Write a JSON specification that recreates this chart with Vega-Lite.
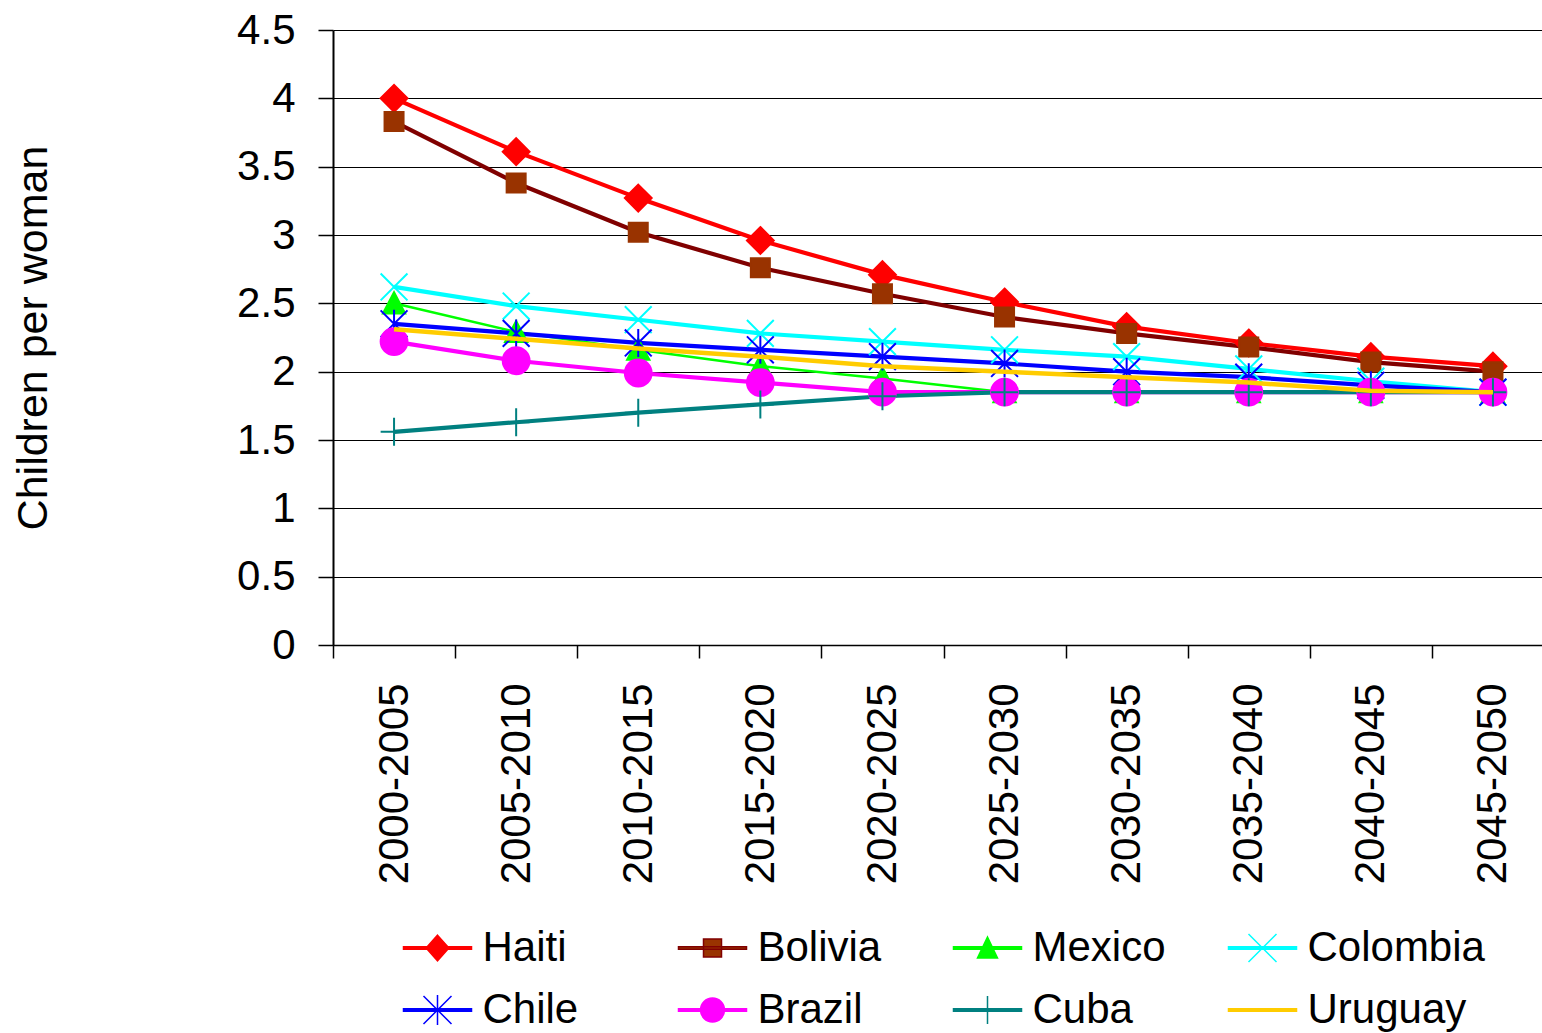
{
  "$schema": "https://vega.github.io/schema/vega-lite/v6.json",
  "width": 1209,
  "height": 615,
  "autosize": {"type": "none"},
  "padding": {"left": 333, "top": 30, "right": 0, "bottom": 388},
  "background": "white",
  "config": {
    "font": "Liberation Sans",
    "view": {"stroke": null},
    "axis": {"labelFont": "Liberation Sans", "titleFont": "Liberation Sans", "labelColor": "#000", "titleColor": "#000"}
  },
  "data": {"values": [
    {"period": "2000-2005", "country": "Haiti", "tfr": 4.0},
    {"period": "2005-2010", "country": "Haiti", "tfr": 3.61},
    {"period": "2010-2015", "country": "Haiti", "tfr": 3.27},
    {"period": "2015-2020", "country": "Haiti", "tfr": 2.96},
    {"period": "2020-2025", "country": "Haiti", "tfr": 2.71},
    {"period": "2025-2030", "country": "Haiti", "tfr": 2.51},
    {"period": "2030-2035", "country": "Haiti", "tfr": 2.33},
    {"period": "2035-2040", "country": "Haiti", "tfr": 2.21},
    {"period": "2040-2045", "country": "Haiti", "tfr": 2.11},
    {"period": "2045-2050", "country": "Haiti", "tfr": 2.04},
    {"period": "2000-2005", "country": "Bolivia", "tfr": 3.83},
    {"period": "2005-2010", "country": "Bolivia", "tfr": 3.38},
    {"period": "2010-2015", "country": "Bolivia", "tfr": 3.02},
    {"period": "2015-2020", "country": "Bolivia", "tfr": 2.76},
    {"period": "2020-2025", "country": "Bolivia", "tfr": 2.57},
    {"period": "2025-2030", "country": "Bolivia", "tfr": 2.40},
    {"period": "2030-2035", "country": "Bolivia", "tfr": 2.28},
    {"period": "2035-2040", "country": "Bolivia", "tfr": 2.18},
    {"period": "2040-2045", "country": "Bolivia", "tfr": 2.07},
    {"period": "2045-2050", "country": "Bolivia", "tfr": 2.0},
    {"period": "2000-2005", "country": "Mexico", "tfr": 2.50},
    {"period": "2005-2010", "country": "Mexico", "tfr": 2.29},
    {"period": "2010-2015", "country": "Mexico", "tfr": 2.16},
    {"period": "2015-2020", "country": "Mexico", "tfr": 2.04},
    {"period": "2020-2025", "country": "Mexico", "tfr": 1.95},
    {"period": "2025-2030", "country": "Mexico", "tfr": 1.85},
    {"period": "2030-2035", "country": "Mexico", "tfr": 1.85},
    {"period": "2035-2040", "country": "Mexico", "tfr": 1.85},
    {"period": "2040-2045", "country": "Mexico", "tfr": 1.85},
    {"period": "2045-2050", "country": "Mexico", "tfr": 1.85},
    {"period": "2000-2005", "country": "Colombia", "tfr": 2.62},
    {"period": "2005-2010", "country": "Colombia", "tfr": 2.48},
    {"period": "2010-2015", "country": "Colombia", "tfr": 2.38},
    {"period": "2015-2020", "country": "Colombia", "tfr": 2.28},
    {"period": "2020-2025", "country": "Colombia", "tfr": 2.22},
    {"period": "2025-2030", "country": "Colombia", "tfr": 2.16},
    {"period": "2030-2035", "country": "Colombia", "tfr": 2.11},
    {"period": "2035-2040", "country": "Colombia", "tfr": 2.02},
    {"period": "2040-2045", "country": "Colombia", "tfr": 1.93},
    {"period": "2045-2050", "country": "Colombia", "tfr": 1.85},
    {"period": "2000-2005", "country": "Chile", "tfr": 2.35},
    {"period": "2005-2010", "country": "Chile", "tfr": 2.28},
    {"period": "2010-2015", "country": "Chile", "tfr": 2.21},
    {"period": "2015-2020", "country": "Chile", "tfr": 2.16},
    {"period": "2020-2025", "country": "Chile", "tfr": 2.11},
    {"period": "2025-2030", "country": "Chile", "tfr": 2.06},
    {"period": "2030-2035", "country": "Chile", "tfr": 2.0},
    {"period": "2035-2040", "country": "Chile", "tfr": 1.96},
    {"period": "2040-2045", "country": "Chile", "tfr": 1.90},
    {"period": "2045-2050", "country": "Chile", "tfr": 1.85},
    {"period": "2000-2005", "country": "Brazil", "tfr": 2.22},
    {"period": "2005-2010", "country": "Brazil", "tfr": 2.08},
    {"period": "2010-2015", "country": "Brazil", "tfr": 1.99},
    {"period": "2015-2020", "country": "Brazil", "tfr": 1.92},
    {"period": "2020-2025", "country": "Brazil", "tfr": 1.85},
    {"period": "2025-2030", "country": "Brazil", "tfr": 1.85},
    {"period": "2030-2035", "country": "Brazil", "tfr": 1.85},
    {"period": "2035-2040", "country": "Brazil", "tfr": 1.85},
    {"period": "2040-2045", "country": "Brazil", "tfr": 1.85},
    {"period": "2045-2050", "country": "Brazil", "tfr": 1.85},
    {"period": "2000-2005", "country": "Cuba", "tfr": 1.56},
    {"period": "2005-2010", "country": "Cuba", "tfr": 1.63},
    {"period": "2010-2015", "country": "Cuba", "tfr": 1.70},
    {"period": "2015-2020", "country": "Cuba", "tfr": 1.76},
    {"period": "2020-2025", "country": "Cuba", "tfr": 1.82},
    {"period": "2025-2030", "country": "Cuba", "tfr": 1.85},
    {"period": "2030-2035", "country": "Cuba", "tfr": 1.85},
    {"period": "2035-2040", "country": "Cuba", "tfr": 1.85},
    {"period": "2040-2045", "country": "Cuba", "tfr": 1.85},
    {"period": "2045-2050", "country": "Cuba", "tfr": 1.85},
    {"period": "2000-2005", "country": "Uruguay", "tfr": 2.31},
    {"period": "2005-2010", "country": "Uruguay", "tfr": 2.24},
    {"period": "2010-2015", "country": "Uruguay", "tfr": 2.17},
    {"period": "2015-2020", "country": "Uruguay", "tfr": 2.11},
    {"period": "2020-2025", "country": "Uruguay", "tfr": 2.04},
    {"period": "2025-2030", "country": "Uruguay", "tfr": 2.0},
    {"period": "2030-2035", "country": "Uruguay", "tfr": 1.96},
    {"period": "2035-2040", "country": "Uruguay", "tfr": 1.92},
    {"period": "2040-2045", "country": "Uruguay", "tfr": 1.86},
    {"period": "2045-2050", "country": "Uruguay", "tfr": 1.85}
  ]},
  "encoding": {
    "x": {
      "field": "period", "type": "ordinal", "sort": null,
      "scale": {"type": "band", "paddingInner": 0, "paddingOuter": 0, "range": [0, 1221]},
      "axis": {
        "title": null, "labelAngle": -90, "labelAlign": "right", "labelBaseline": "middle",
        "labelFontSize": 42, "labelPadding": 25, "labelLimit": 400, "tickSize": 13, "tickColor": "#000", "tickWidth": 1.5,
        "tickBand": "extent", "domainColor": "#000", "domainWidth": 1.5, "grid": false, "labelOverlap": false
      }
    },
    "y": {
      "field": "tfr", "type": "quantitative",
      "scale": {"domain": [0, 4.5], "nice": false, "zero": true},
      "axis": {
        "title": "Children per woman", "titleFontSize": 43, "titleFontWeight": "normal", "titlePadding": 181,
        "values": [0, 0.5, 1, 1.5, 2, 2.5, 3, 3.5, 4, 4.5], "format": "~g",
        "labelFontSize": 42, "labelPadding": 23, "tickSize": 15, "tickColor": "#000", "tickWidth": 1.5,
        "grid": true, "gridColor": "#000", "gridWidth": 1.2, "domainColor": "#000", "domainWidth": 2
      }
    }
  },
  "resolve": {"scale": {"shape": "independent", "fill": "independent", "stroke": "independent"}},
  "layer": [
    {
      "transform": [{"filter": "datum.country === 'Mexico'"}],
      "mark": {"type": "line", "strokeWidth": 2.5},
      "encoding": {
        "color": {"field": "country", "type": "nominal", "legend": null,
          "scale": {"domain": ["Uruguay", "Cuba", "Brazil", "Chile", "Colombia", "Mexico", "Bolivia", "Haiti"],
                    "range": ["#FFCC00", "#008080", "#FF00FF", "#0000FF", "#00FFFF", "#00FF00", "#800000", "#FF0000"]}}
      }
    },
    {
      "transform": [{"filter": "datum.country !== 'Mexico' && datum.country !== 'Uruguay'"}],
      "mark": {"type": "line", "strokeWidth": 4.2},
      "encoding": {
        "color": {"field": "country", "type": "nominal", "legend": null,
          "scale": {"domain": ["Uruguay", "Cuba", "Brazil", "Chile", "Colombia", "Mexico", "Bolivia", "Haiti"],
                    "range": ["#FFCC00", "#008080", "#FF00FF", "#0000FF", "#00FFFF", "#00FF00", "#800000", "#FF0000"]}}
      }
    },
    {
      "transform": [{"filter": "datum.country !== 'Uruguay'"}],
      "mark": {"type": "point", "filled": true, "strokeWidth": 2, "opacity": 1, "size": 500},
      "encoding": {
        "shape": {"field": "country", "type": "nominal", "legend": null,
          "scale": {"domain": ["Bolivia", "Brazil", "Chile", "Colombia", "Cuba", "Haiti", "Mexico", "Uruguay"],
                    "range": [
                      "M-0.85,-0.85L0.85,-0.85L0.85,0.85L-0.85,0.85Z",
                      "M-1.2,0A1.2,1.2,0,1,1,1.2,0A1.2,1.2,0,1,1,-1.2,0Z",
                      "M-1.2,-1.2L1.2,1.2M-1.2,1.2L1.2,-1.2M0,-1.25L0,1.25",
                      "M-1.2,-1.2L1.2,1.2M-1.2,1.2L1.2,-1.2",
                      "M0,-1.25L0,1.25M-1.2,0L1.2,0",
                      "M0,-1.2L1.2,0L0,1.2L-1.2,0Z",
                      "M0,-1L1,0.9L-1,0.9Z",
                      "M0,0"
                    ]}},
        "stroke": {"field": "country", "type": "nominal", "legend": null,
          "scale": {"domain": ["Cuba", "Uruguay", "Haiti", "Bolivia", "Mexico", "Colombia", "Chile", "Brazil"],
                    "range": ["#008080", "#FFCC00", "#FF0000", "#993300", "#00FF00", "#00FFFF", "#0000FF", "#FF00FF"]}},
        "fill": {"field": "country", "type": "nominal", "legend": null,
          "scale": {"domain": ["Chile", "Brazil", "Cuba", "Uruguay", "Haiti", "Bolivia", "Mexico", "Colombia"],
                    "range": ["#0000FF", "#FF00FF", "#008080", "#FFCC00", "#FF0000", "#993300", "#00FF00", "#00FFFF"]}}
      }
    },
    {
      "transform": [{"filter": "datum.country === 'Uruguay'"}],
      "mark": {"type": "line", "strokeWidth": 4.5},
      "encoding": {
        "color": {"field": "country", "type": "nominal", "legend": null,
          "scale": {"domain": ["Uruguay", "Cuba", "Brazil", "Chile", "Colombia", "Mexico", "Bolivia", "Haiti"],
                    "range": ["#FFCC00", "#008080", "#FF00FF", "#0000FF", "#00FFFF", "#00FF00", "#800000", "#FF0000"]}}
      }
    },
    {
      "transform": [{"filter": "datum.tfr < 0"}],
      "mark": {"type": "point", "filled": true, "opacity": 1, "strokeWidth": 1.5},
      "encoding": {
        "shape": {"field": "country", "type": "nominal",
          "scale": {"domain": ["Haiti", "Bolivia", "Mexico", "Colombia", "Chile", "Brazil", "Cuba", "Uruguay"],
                    "range": [
                      "M-1.7,-0.06L1.7,-0.06L1.7,0.06L-1.7,0.06ZM0,-0.64L0.57,0L0,0.64L-0.57,0Z",
                      "M-1.7,-0.06L1.7,-0.06L1.7,0.06L-1.7,0.06ZM-0.45,-0.45L0.45,-0.45L0.45,0.45L-0.45,0.45Z",
                      "M-1.7,-0.06L1.7,-0.06L1.7,0.06L-1.7,0.06ZM0,-0.55L0.5,0.5L-0.5,0.5Z",
                      "M-1.7,-0.06L1.7,-0.06L1.7,0.06L-1.7,0.06ZM-0.7,-0.7L0.7,0.7M-0.7,0.7L0.7,-0.7",
                      "M-1.7,-0.06L1.7,-0.06L1.7,0.06L-1.7,0.06ZM-0.7,-0.7L0.7,0.7M-0.7,0.7L0.7,-0.7M0,-0.75L0,0.75",
                      "M-1.7,-0.06L1.7,-0.06L1.7,0.06L-1.7,0.06ZM-0.6,0A0.6,0.6,0,1,1,0.6,0A0.6,0.6,0,1,1,-0.6,0Z",
                      "M-1.7,-0.06L1.7,-0.06L1.7,0.06L-1.7,0.06ZM0,-0.7L0,0.7M-0.35,0L0.35,0",
                      "M-1.7,-0.06L1.7,-0.06L1.7,0.06L-1.7,0.06Z"
                    ]},
          "legend": {
            "title": null, "orient": "none", "legendX": 83.5, "legendY": 897,
            "columns": 4, "direction": "horizontal", "gridAlign": "all",
            "symbolSize": 1600, "symbolStrokeWidth": 1.5, "labelFontSize": 42, "labelFont": "Liberation Sans", "labelColor": "#000",
            "labelOffset": 24, "labelLimit": 400, "columnPadding": 15, "rowPadding": 20, "padding": 0
          }
        },
        "fill": {"field": "country", "type": "nominal",
          "scale": {"domain": ["Haiti", "Bolivia", "Mexico", "Colombia", "Chile", "Brazil", "Cuba", "Uruguay"],
                    "range": ["#FF0000", "#993300", "#00FF00", "#00FFFF", "#0000FF", "#FF00FF", "#008080", "#FFCC00"]},
          "legend": {
            "title": null, "orient": "none", "legendX": 83.5, "legendY": 897,
            "columns": 4, "direction": "horizontal", "gridAlign": "all",
            "symbolSize": 1600, "symbolStrokeWidth": 1.5, "labelFontSize": 42, "labelFont": "Liberation Sans", "labelColor": "#000",
            "labelOffset": 24, "labelLimit": 400, "columnPadding": 15, "rowPadding": 20, "padding": 0
          }
        },
        "stroke": {"field": "country", "type": "nominal",
          "scale": {"domain": ["Haiti", "Bolivia", "Mexico", "Colombia", "Chile", "Brazil", "Cuba", "Uruguay"],
                    "range": ["#FF0000", "#800000", "#00FF00", "#00FFFF", "#0000FF", "#FF00FF", "#008080", "#FFCC00"]},
          "legend": {
            "title": null, "orient": "none", "legendX": 83.5, "legendY": 897,
            "columns": 4, "direction": "horizontal", "gridAlign": "all",
            "symbolSize": 1600, "symbolStrokeWidth": 1.5, "labelFontSize": 42, "labelFont": "Liberation Sans", "labelColor": "#000",
            "labelOffset": 24, "labelLimit": 400, "columnPadding": 15, "rowPadding": 20, "padding": 0
          }
        }
      }
    }
  ]
}
